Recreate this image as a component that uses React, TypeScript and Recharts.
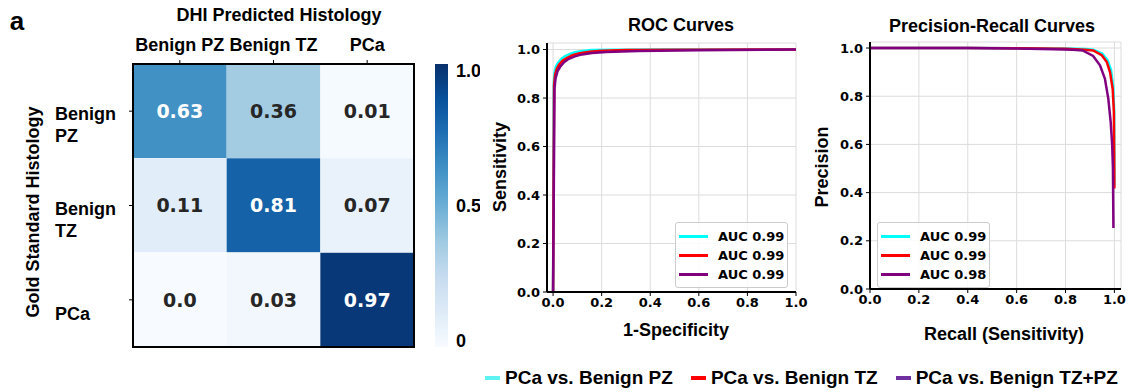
import React from "react";
import { BarChart, Bar, Cell, LabelList, XAxis, YAxis, LineChart, Line, CartesianGrid, Legend, ReferenceArea } from "recharts";

// confusion matrix (rows = gold standard, cols = predicted)
const matrixRows = ["Benign PZ", "Benign TZ", "PCa"];
const matrixCols = ["Benign PZ", "Benign TZ", "PCa"];
const rowBenignPZ = [0.63, 0.36, 0.01];
const rowBenignTZ = [0.11, 0.81, 0.07];
const rowPCa = [0.0, 0.03, 0.97];
const colorbarTicks = [0, 0.5, 1];

// ROC curves (fpr, tpr)
const rocFprPZ = [0, 0.003, 0.006, 0.012, 0.02, 0.035, 0.05, 0.07, 0.09, 0.12, 0.16, 0.25, 0.5, 1.0];
const rocTprPZ = [0, 0.86, 0.905, 0.93, 0.945, 0.962, 0.973, 0.982, 0.989, 0.994, 0.998, 0.999, 1.0, 1.0];
const rocFprTZ = [0, 0.004, 0.008, 0.015, 0.025, 0.04, 0.06, 0.08, 0.11, 0.15, 0.2, 0.3, 0.5, 1.0];
const rocTprTZ = [0, 0.85, 0.895, 0.92, 0.938, 0.955, 0.967, 0.977, 0.985, 0.991, 0.995, 0.998, 0.999, 1.0];
const rocFprAll = [0, 0.006, 0.01, 0.018, 0.03, 0.045, 0.065, 0.09, 0.12, 0.16, 0.22, 0.35, 0.6, 1.0];
const rocTprAll = [0, 0.84, 0.88, 0.91, 0.93, 0.948, 0.962, 0.972, 0.98, 0.986, 0.99, 0.994, 0.997, 1.0];

// precision-recall curves (recall, precision)
const prRecPZ = [0, 0.2, 0.4, 0.6, 0.8, 0.88, 0.913, 0.95, 0.972, 0.986, 0.995, 0.999, 1.0];
const prPrecPZ = [1, 1, 1, 0.999, 0.998, 0.996, 0.993, 0.977, 0.95, 0.91, 0.84, 0.74, 0.43];
const prRecTZ = [0, 0.2, 0.4, 0.6, 0.8, 0.88, 0.913, 0.948, 0.969, 0.982, 0.993, 0.998, 1.0];
const prPrecTZ = [1, 1, 1, 0.999, 0.997, 0.993, 0.99, 0.97, 0.942, 0.9, 0.83, 0.734, 0.417];
const prRecAll = [0, 0.2, 0.4, 0.6, 0.75, 0.83, 0.87, 0.913, 0.941, 0.961, 0.975, 0.985, 0.991, 0.994, 0.996];
const prPrecAll = [1, 1, 1, 0.998, 0.995, 0.993, 0.99, 0.967, 0.928, 0.873, 0.79, 0.69, 0.596, 0.5, 0.253];

const seriesNames = ["PCa vs. Benign PZ", "PCa vs. Benign TZ", "PCa vs. Benign TZ+PZ"];
const seriesColors = ["#00ffff", "#ff0000", "#800080"];
const bottomLegendColors = ["#5ef2f2", "#ff0000", "#7030a0"];
const rocAuc = ["AUC 0.99", "AUC 0.99", "AUC 0.99"];
const prAuc = ["AUC 0.99", "AUC 0.99", "AUC 0.98"];
const axisTicks = [0, 0.2, 0.4, 0.6, 0.8, 1.0];

const BLUES = ["#f7fbff", "#deebf7", "#c6dbef", "#9ecae1", "#6baed6", "#4292c6", "#2171b5", "#08519c", "#08306b"];

const HEAD = '"Liberation Sans", Arial, sans-serif';
const TICK = '"DejaVu Sans", sans-serif';

function hexToRgb(h: string) {
  return [1, 3, 5].map((i) => parseInt(h.slice(i, i + 2), 16));
}

function blues(v: number) {
  const t = Math.max(0, Math.min(1, v)) * (BLUES.length - 1);
  const i = Math.min(Math.floor(t), BLUES.length - 2);
  const f = t - i;
  const a = hexToRgb(BLUES[i]);
  const b = hexToRgb(BLUES[i + 1]);
  const c = a.map((x, k) => Math.round(x + (b[k] - x) * f));
  return `rgb(${c[0]},${c[1]},${c[2]})`;
}

const matrixValues = [rowBenignPZ, rowBenignTZ, rowPCa];
const heatData = matrixRows.map((row, i) => ({
  row,
  v0: matrixValues[i][0],
  v1: matrixValues[i][1],
  v2: matrixValues[i][2],
  w0: 1,
  w1: 1,
  w2: 1,
}));

const zip = (xs: number[], ys: number[]) => xs.map((x, i) => ({ x, y: ys[i] }));
const rocData = [zip(rocFprPZ, rocTprPZ), zip(rocFprTZ, rocTprTZ), zip(rocFprAll, rocTprAll)];
const prData = [zip(prRecPZ, prPrecPZ), zip(prRecTZ, prPrecTZ), zip(prRecAll, prPrecAll)];

const fmtCell = (v: number) => (Number.isInteger(v) ? v.toFixed(1) : String(v));

function ColTick(props: any) {
  const { x, y, payload } = props;
  return (
    <text x={x} y={y} textAnchor="middle" fontFamily={HEAD} fontWeight="bold" fontSize={18} fill="#000">
      {matrixCols[Math.floor(payload.value)]}
    </text>
  );
}

function RowTick(props: any) {
  const { x, y, payload } = props;
  const lines = String(payload.value).split(" ");
  const n = lines.length;
  return (
    <g>
      {lines.map((ln, i) => (
        <text key={i} x={x - 72} y={y + 13.5 + (i - (n - 1) / 2) * 22 + 6.5} textAnchor="start"
          fontFamily={HEAD} fontWeight="bold" fontSize={18} fill="#000">
          {ln}
        </text>
      ))}
    </g>
  );
}

function CellLabel(props: any) {
  const { x, y, width, height, value } = props;
  return (
    <text x={x + width / 2} y={y + height / 2} textAnchor="middle" dominantBaseline="central"
      fontFamily={TICK} fontWeight="bold" fontSize={19} fill={value > 0.5 ? "#ffffff" : "#262626"}>
      {fmtCell(value)}
    </text>
  );
}

function CbTick(props: any) {
  const { x, y, payload } = props;
  const v = payload.value;
  const base = v === 1 ? "hanging" : v === 0 ? "auto" : "central";
  return (
    <text x={x} y={y} textAnchor="start" dominantBaseline={base} fontFamily={HEAD} fontWeight="bold" fontSize={18} fill="#000">
      {v === 0 ? "0" : v.toFixed(1)}
    </text>
  );
}

const tickFont = { fontFamily: TICK, fontWeight: "bold", fontSize: 13, fill: "#000" } as any;
const fmt1 = (v: number) => v.toFixed(1);
const spine = { stroke: "#000", strokeWidth: 2 };

function InnerLegend({ labels }: { labels: string[] }) {
  return (
    <div style={{ width: 113, border: "1px solid #cccccc", borderRadius: 3, background: "rgba(255,255,255,0.85)", padding: "4px 0 3px 3px", boxSizing: "border-box" }}>
      {labels.map((l, i) => (
        <div key={i} style={{ display: "flex", alignItems: "center", height: 19 }}>
          <span style={{ display: "inline-block", width: 29, height: 3, background: seriesColors[i], marginRight: 10 }} />
          <span style={{ fontFamily: TICK, fontWeight: "bold", fontSize: 13, color: "#000", whiteSpace: "nowrap" }}>{l}</span>
        </div>
      ))}
    </div>
  );
}

function Text({ x, y, children, size = 18, rotate = 0 }: any) {
  return (
    <div style={{ position: "absolute", left: x, top: y, transform: `translate(-50%,-50%) rotate(${rotate}deg)`, fontFamily: HEAD, fontWeight: "bold", fontSize: size, whiteSpace: "nowrap", lineHeight: 1, color: "#000" }}>
      {children}
    </div>
  );
}

function CurveChart({ data, labels, xDomain, yDomain, width, yAxisWidth, margin, legendPos }: any) {
  return (
    <LineChart width={width} height={350} margin={margin}>
      <CartesianGrid stroke="#dcdcdc" strokeWidth={1} />
      <XAxis type="number" dataKey="x" domain={xDomain} ticks={axisTicks} allowDataOverflow height={30}
        tickSize={4} tickMargin={2} tickFormatter={fmt1} tick={tickFont} axisLine={spine} tickLine={{ stroke: "#000" }} />
      <YAxis type="number" domain={yDomain} ticks={axisTicks} allowDataOverflow width={yAxisWidth}
        tickSize={4} tickMargin={3} tickFormatter={fmt1} tick={tickFont} axisLine={spine} tickLine={{ stroke: "#000" }} />
      <XAxis xAxisId="frame" orientation="top" type="number" domain={[0, 1]} height={0} tick={false} tickLine={false} axisLine={spine} />
      <YAxis yAxisId="frame" orientation="right" type="number" domain={[0, 1]} width={0} tick={false} tickLine={false} axisLine={spine} />
      {data.map((d: any[], i: number) => (
        <Line key={i} data={d} dataKey="y" name={seriesNames[i]} type="linear" stroke={seriesColors[i]}
          strokeWidth={2.5} dot={false} activeDot={false} isAnimationActive={false} />
      ))}
      <Legend layout="vertical" align="center" verticalAlign="middle" wrapperStyle={{ left: legendPos[0], top: legendPos[1], width: 113 }}
        content={() => <InnerLegend labels={labels} />} />
    </LineChart>
  );
}

const heatMargin = { top: 44, right: 56, bottom: 45, left: 113 };

// axes for the matrix; drawn twice: invisible under the cells (for the scales), visible on top of them
function heatAxes(show: boolean) {
  return [
    <XAxis key="x" type="number" orientation="top" domain={[0, 3]} ticks={[0.5, 1.5, 2.5]} height={20} allowDataOverflow
      tickSize={4} tickMargin={9} tick={show ? <ColTick /> : false} axisLine={show ? spine : false} tickLine={show ? { stroke: "#000" } : false} />,
    <YAxis key="y" type="category" dataKey="row" width={20} tickSize={4} tickMargin={2} tick={show ? <RowTick /> : false}
      axisLine={show ? spine : false} tickLine={show ? { stroke: "#000" } : false} />,
  ];
}

export default function App() {
  return (
    <div style={{ position: "absolute", left: 0, top: 0, width: 1133, height: 392, background: "#fff", overflow: "hidden" }}>
      {/* confusion matrix */}
      <div style={{ position: "absolute", left: 0, top: 0 }}>
        <BarChart layout="vertical" width={470} height={392} data={heatData} margin={heatMargin} barCategoryGap={0} barGap={0}>
          {heatAxes(false)}
          {matrixCols.map((c, j) => (
            <Bar key={c + j} dataKey={`w${j}`} stackId="m" isAnimationActive={false}>
              {heatData.map((d: any, i) => (
                <Cell key={i} fill={blues(d[`v${j}`])} />
              ))}
              <LabelList dataKey={`v${j}`} content={<CellLabel />} />
            </Bar>
          ))}
        </BarChart>
      </div>
      <div style={{ position: "absolute", left: 0, top: 0 }}>
        <BarChart layout="vertical" width={470} height={392} data={heatData} margin={heatMargin}>
          {heatAxes(true)}
          <ReferenceArea x1={0} x2={3} y1={matrixRows[0]} y2={matrixRows[matrixRows.length - 1]}
            fill="none" fillOpacity={0} stroke="#000" strokeWidth={2} ifOverflow="visible" />
        </BarChart>
      </div>
      {/* colorbar */}
      <div style={{ position: "absolute", left: 420, top: 0 }}>
        <BarChart width={60} height={392} data={[{ name: "cb", v: 1 }]} margin={{ top: 64, right: 0, bottom: 45, left: 15 }} barCategoryGap={0}>
          <defs>
            <linearGradient id="bluesGrad" x1="0" y1="1" x2="0" y2="0">
              {BLUES.map((c, i) => (
                <stop key={i} offset={i / (BLUES.length - 1)} stopColor={c} />
              ))}
            </linearGradient>
          </defs>
          <XAxis dataKey="name" hide />
          <YAxis orientation="right" type="number" domain={[0, 1]} ticks={colorbarTicks} width={32}
            axisLine={false} tickLine={false} tickMargin={2} tick={<CbTick />} />
          <Bar dataKey="v" fill="url(#bluesGrad)" isAnimationActive={false} />
        </BarChart>
      </div>
      <Text x={17} y={21} size={26}>a</Text>
      <Text x={279} y={15}>DHI Predicted Histology</Text>
      <Text x={33} y={212} rotate={-90}>Gold Standard Histology</Text>

      {/* ROC */}
      <div style={{ position: "absolute", left: 470, top: 0 }}>
        <CurveChart data={rocData} labels={rocAuc} xDomain={[-0.025, 1]} yDomain={[0, 1.027]} width={340} yAxisWidth={77}
          margin={{ top: 43, right: 14, bottom: 28, left: 0 }} legendPos={[205, 222]} />
      </div>
      <Text x={681} y={25}>ROC Curves</Text>
      <Text x={676} y={330}>1-Specificity</Text>
      <Text x={500} y={167} rotate={-90}>Sensitivity</Text>

      {/* PR */}
      <div style={{ position: "absolute", left: 800, top: 0 }}>
        <CurveChart data={prData} labels={prAuc} xDomain={[0, 1.027]} yDomain={[0, 1.025]} width={333} yAxisWidth={70}
          margin={{ top: 42, right: 12, bottom: 31, left: 0 }} legendPos={[77, 222]} />
      </div>
      <Text x={992} y={26}>Precision-Recall Curves</Text>
      <Text x={1004} y={334}>Recall (Sensitivity)</Text>
      <Text x={822} y={167} rotate={-90}>Precision</Text>

      {/* shared legend */}
      <div style={{ position: "absolute", left: 485, top: 368, display: "flex", alignItems: "center", gap: 18 }}>
        {seriesNames.map((n, i) => (
          <div key={n} style={{ display: "flex", alignItems: "center" }}>
            <span style={{ display: "inline-block", width: 15, height: 4, background: bottomLegendColors[i], marginRight: 5 }} />
            <span style={{ fontFamily: HEAD, fontWeight: "bold", fontSize: 19, lineHeight: "20px", whiteSpace: "nowrap" }}>{n}</span>
          </div>
        ))}
      </div>
    </div>
  );
}
